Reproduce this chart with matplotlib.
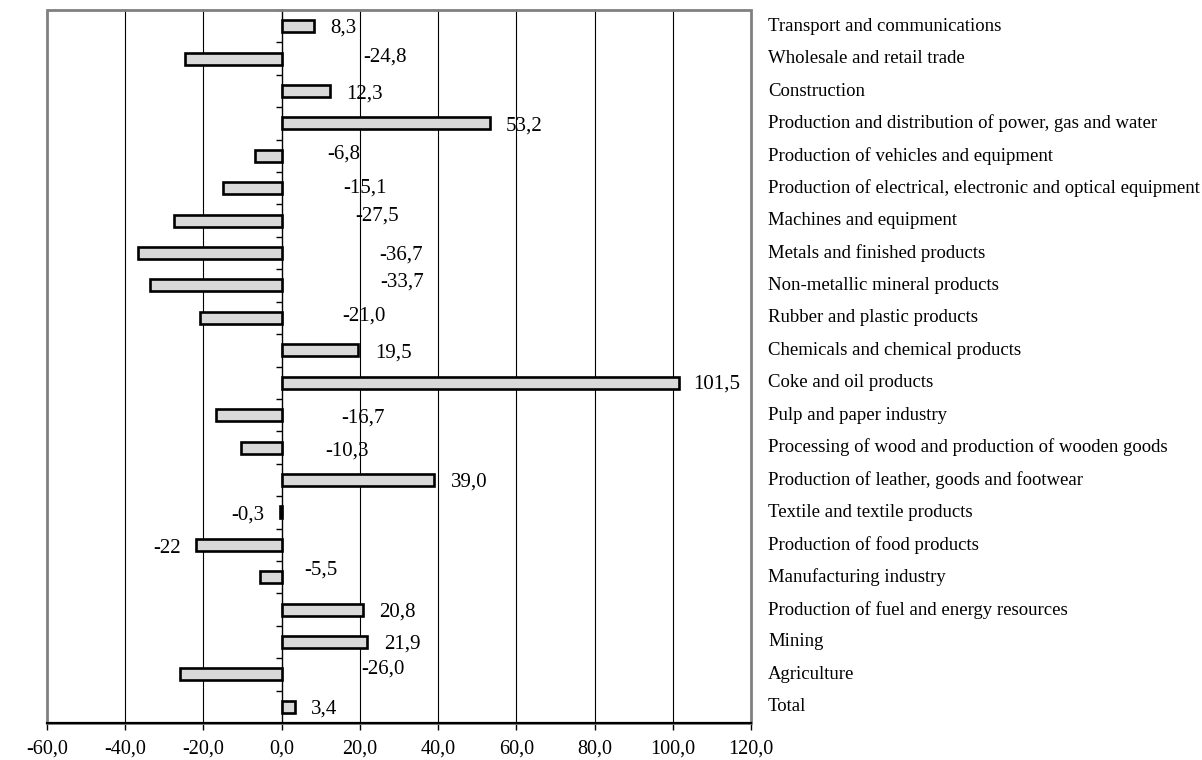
import matplotlib
matplotlib.use("Agg")
import matplotlib.pyplot as plt
from matplotlib.patches import Rectangle
from matplotlib.ticker import FuncFormatter
import numpy as np

plt.rcParams['font.family'] = ['Liberation Serif', 'DejaVu Serif']

# categories listed from top to bottom
categories = [
    "Transport and communications",
    "Wholesale and retail trade",
    "Construction",
    "Production and distribution of power, gas and water",
    "Production of vehicles and equipment",
    "Production of electrical, electronic and optical equipment",
    "Machines and equipment",
    "Metals and finished products",
    "Non-metallic mineral products",
    "Rubber and plastic products",
    "Chemicals and chemical products",
    "Coke and oil products",
    "Pulp and paper industry",
    "Processing of wood and production of wooden goods",
    "Production of leather, goods and footwear",
    "Textile and textile products",
    "Production of food products",
    "Manufacturing industry",
    "Production of fuel and energy resources",
    "Mining",
    "Agriculture",
    "Total",
]
values = [8.3, -24.8, 12.3, 53.2, -6.8, -15.1, -27.5, -36.7, -33.7, -21.0,
          19.5, 101.5, -16.7, -10.3, 39.0, -0.3, -22, -5.5, 20.8, 21.9, -26.0, 3.4]
value_texts = ["8,3", "-24,8", "12,3", "53,2", "-6,8", "-15,1", "-27,5", "-36,7",
               "-33,7", "-21,0", "19,5", "101,5", "-16,7", "-10,3", "39,0", "-0,3",
               "-22", "-5,5", "20,8", "21,9", "-26,0", "3,4"]

# label placement (as in the original chart): x centre in data units, vertical shift in pixels
label_x = [15.7, 26.5, 21.2, 62.1, 15.9, 21.3, 24.4, 30.4, 30.9, 21.0,
           28.6, 111.3, 20.7, 16.6, 47.9, -8.7, -29.3, 10.0, 29.7, 30.9, 25.8, 10.9]
label_dy_px = [2.0, -1.2, 3.2, 2.8, -1.8, 0.2, -4.4, 2.2, -3.8, -1.8,
               3.2, 1.7, 3.2, 3.2, 2.2, 3.2, 3.6, -6.8, 2.8, 2.4, -5.8, 2.6]

x_ticks = [-60, -40, -20, 0, 20, 40, 60, 80, 100, 120]

n = len(categories)
ypos = np.arange(n)[::-1]

fig = plt.figure(figsize=(12.02, 7.60), dpi=100)
ax = fig.add_axes([0.0391, 0.0487, 0.6248 - 0.0391, 0.9868 - 0.0487])

ax.set_xlim(-60, 120)
ax.set_ylim(-0.5, n - 0.5)

# gridlines
for xv in x_ticks[1:-1]:
    if xv != 0:
        ax.axvline(xv, color='black', lw=0.8, zorder=1)

ax.barh(ypos, values, height=0.37, color='#d9d9d9', edgecolor='black',
        linewidth=1.9, zorder=3)

# zero axis: left spine moved to x=0 with boundary ticks
ax.spines['left'].set_position(('data', 0))
ax.spines['left'].set_color('black')
ax.spines['left'].set_linewidth(1.0)
ax.spines['left'].set_zorder(2)
ax.set_yticks(np.arange(-0.5, n, 1.0))
ax.tick_params(axis='y', direction='out', length=4, width=1, labelleft=False)

for s in ['top', 'right']:
    ax.spines[s].set_visible(False)
ax.spines['bottom'].set_color('black')
ax.spines['bottom'].set_linewidth(1.6)
ax.spines['bottom'].set_zorder(5)

# gray frame
frame = Rectangle((0, 0), 1, 1, transform=ax.transAxes, fill=False,
                  edgecolor='#808080', linewidth=2.0, zorder=4, clip_on=False)
ax.add_patch(frame)

ax.set_xticks(x_ticks)
ax.xaxis.set_major_formatter(FuncFormatter(lambda v, p: f"{v:.1f}".replace('.', ',')))
ax.tick_params(axis='x', direction='out', length=5, width=1, labelsize=14.5, pad=7)

cat_h = (0.9868 - 0.0487) * 760 / n  # pixels per category
for i in range(n):
    ax.text(label_x[i], ypos[i] - label_dy_px[i] / cat_h, value_texts[i],
            ha='center', va='center', fontsize=15, zorder=6)

# category labels to the right of the plot
for i in range(n):
    ax.annotate(categories[i], xy=(1, ypos[i]), xycoords=('axes fraction', 'data'),
                xytext=(17, 0), textcoords='offset pixels',
                ha='left', va='center', fontsize=13.5, annotation_clip=False)

fig.savefig("out.png", dpi=100)
